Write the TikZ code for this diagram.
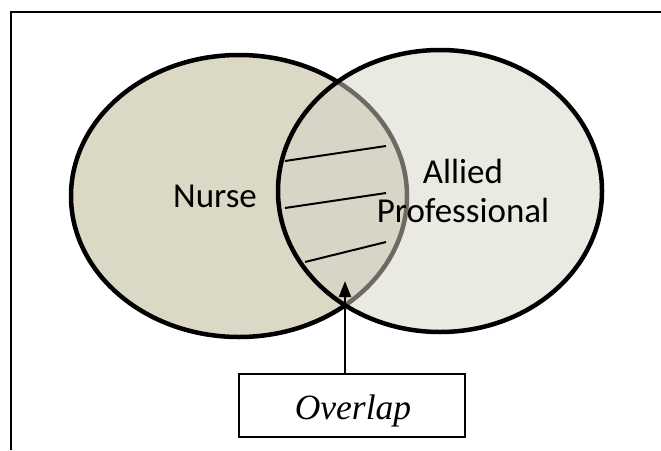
\documentclass[tikz,border=0pt]{standalone}
\usepackage{fontspec}
\setmainfont{Liberation Serif}
\newfontfamily\calfont{Carlito}
\usetikzlibrary{arrows.meta,shapes.geometric}
\definecolor{leftfill}{RGB}{220,216,198}
\definecolor{rightfill}{RGB}{214,212,198}
\tikzset{
  circ/.style={ellipse, draw=black, line width=4.5pt, inner sep=0pt},
  lbl/.style={font=\calfont\fontsize{35}{40}\selectfont, anchor=base, inner sep=0pt},
  hatch/.style={line width=2pt, black},
  ovlbox/.style={draw=black, line width=2pt, fill=white, minimum width=226pt, minimum height=63pt, inner sep=0pt},
  ovltxt/.style={font=\itshape\fontsize{35.5}{40}\selectfont, anchor=base, inner sep=0pt},
  arr/.style={line width=2pt, -{Triangle[length=16pt,width=12pt]}}
}
\begin{document}
\begin{tikzpicture}[x=1pt,y=-1pt]
\useasboundingbox (0,0) rectangle (661,450);
\fill[white] (0,0) rectangle (661,450);
% frame
\draw[line width=1.6pt] (11,450) -- (11,12) -- (661,12);
% ellipses
\node[circ, fill=leftfill, minimum width=336pt, minimum height=282pt] (nurse) at (239,196) {};
\node[circ, fill=rightfill, fill opacity=0.5, draw opacity=1, minimum width=324pt, minimum height=282pt] (allied) at (440,191) {};
% hatch lines
\draw[hatch] (285,161) -- (386,146);
\draw[hatch] (285,208) -- (386,193);
\draw[hatch] (305,262) -- (386,242);
% labels
\node[lbl] (nursetxt) at (215,207) {Nurse};
\node[lbl] (alliedtxt) at (463,183) {Allied};
\node[lbl] (proftxt) at (463,222) {Professional};
% overlap box
\node[ovlbox] (ovl) at (352,405.5) {};
\node[ovltxt] (ovltext) at (353,419) {Overlap};
\coordinate (tip) at (345,281);
\draw[arr] (ovl.north -| tip) -- (tip);
\end{tikzpicture}
\end{document}
